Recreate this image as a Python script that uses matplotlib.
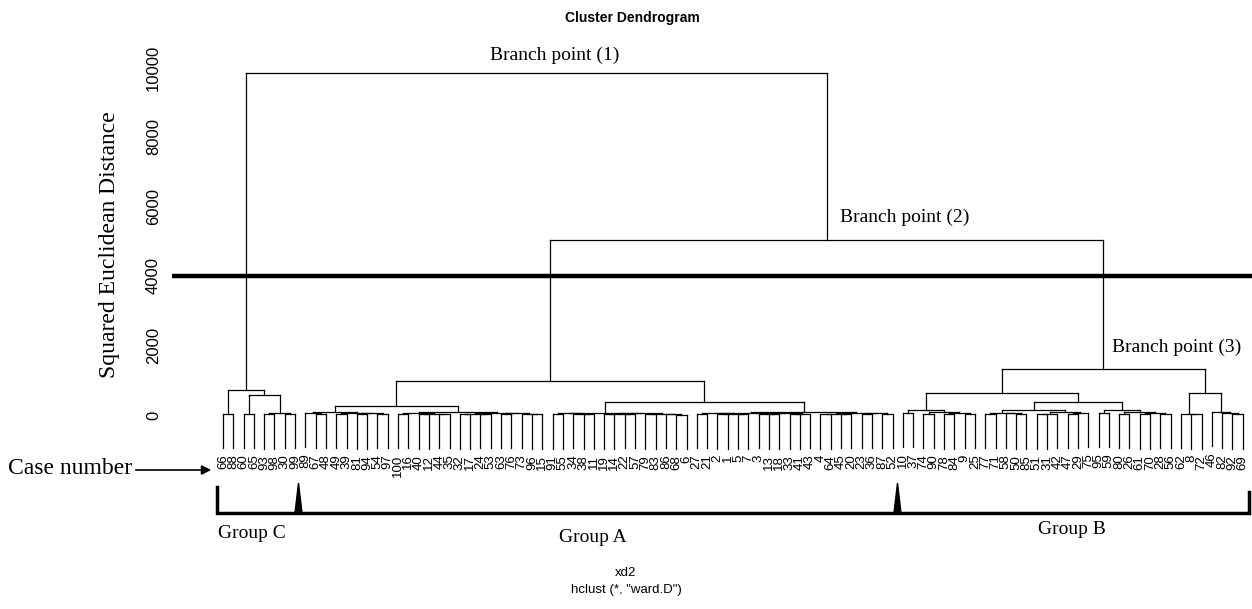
import matplotlib.pyplot as plt
from matplotlib.patches import Polygon

# upper merge heights (squared euclidean distance)
root_height = 9850       # branch point (1)
ab_height = 5040         # branch point (2)
cut_height = 4000
y_ticks = [0, 2000, 4000, 6000, 8000, 10000]

# subtrees: [merge height, left, right], leaves are case numbers
group_c = [720, [40, 66, 88],
           [575, [30, 60, 65], [60, [20, 93, 98], [35, 30, 99]]]]

group_a_left = [270,
    [95, [60, 89, [25, 67, 48]], [70, [30, 49, 39], [45, [20, 81, 94], [35, 54, 97]]]],
    [80, [55, [30, 100, 16], [40, [15, 40, 12], [25, 44, 35]]],
         [65, [35, [20, 32, 17], [30, 24, 53]], [50, [25, 63, 76], [40, 73, [20, 96, 15]]]]]]
group_a_right = [380,
    [60, [45, [20, 91, 55], [30, 34, [15, 38, 11]]],
         [50, [35, [20, 19, 14], [25, 22, 57]], [40, [20, 79, 83], [30, 86, [10, 68, 6]]]]],
    [95, [70, [50, [25, 27, 21], [35, [15, 2, 1], [20, 5, 7]]],
              [55, [30, 3, [15, 13, 18]], [40, [20, 33, 41], 43]]],
         [60, [40, [20, 4, 64], [25, 45, 20]], [45, [30, 23, 36], [35, 87, 52]]]]]
group_a = [990, group_a_left, group_a_right]

group_b_left = [620,
    [140, [60, 10, 37], [90, [30, 74, 90], [45, [20, 78, 84], [25, 9, 25]]]],
    [370, [140, [70, [30, 77, 71], [45, 58, [20, 50, 85]]],
               [95, [40, [15, 51, 31], 42], [55, [25, 47, 29], 75]]],
          [140, [50, 95, 59], [85, [35, 80, 26], [50, [20, 61, 70], [30, 28, 56]]]]]]
group_b_right = [640, [40, 62, [15, 8, 72]], [80, 46, [45, 82, [20, 92, 69]]]]
group_b = [1320, group_b_left, group_b_right]

tree = [root_height, group_c, [ab_height, group_a, group_b]]

W, H = 1252, 609
fig = plt.figure(figsize=(W / 100, H / 100), dpi=100)
ax = fig.add_axes([172 / W, (H - 460) / H, 1080 / W, 420 / H])
ax.set_xlim(-4.95, 99.9)
ax.set_ylim(-1295, 10791)

hang = 0.1 * root_height
order = []


def draw(node):
    if not isinstance(node, list):
        order.append(node)
        return len(order) - 1, None, node
    h, left, right = node
    kids = [draw(left), draw(right)]
    for x, hc, lab in kids:
        bottom = h - hang if hc is None else hc
        ax.plot([x, x], [bottom, h], color='black', lw=0.9)
        if hc is None:
            ax.text(x, bottom - 180, str(lab), rotation=90, ha='center', va='top',
                    fontsize=9.5, family='Liberation Sans')
    ax.plot([kids[0][0], kids[1][0]], [h, h], color='black', lw=0.9)
    return (kids[0][0] + kids[1][0]) / 2, h, None


draw(tree)
ax.axhline(cut_height, color='black', lw=3.2)

for s in ax.spines.values():
    s.set_visible(False)
ax.set_xticks([])
ax.set_yticks(y_ticks)
ax.set_yticklabels([str(t) for t in y_ticks], rotation=90, va='center',
                   fontsize=12, family='Liberation Sans')
ax.tick_params(axis='y', length=0, pad=8)

# overlay in pixel coordinates for annotations
ov = fig.add_axes([0, 0, 1, 1])
ov.set_xlim(0, W)
ov.set_ylim(H, 0)
ov.axis('off')

serif = 'Liberation Serif'
ov.text(632, 18, 'Cluster Dendrogram', ha='center', va='center', fontsize=10,
        fontweight='bold', family='Liberation Sans')
ov.text(555, 55, 'Branch point (1)', ha='center', va='center', fontsize=14, family=serif)
ov.text(905, 217, 'Branch point (2)', ha='center', va='center', fontsize=14, family=serif)
ov.text(1177, 347, 'Branch point (3)', ha='center', va='center', fontsize=14, family=serif)
ov.text(110, 245, 'Squared Euclidean Distance', ha='center', va='center', rotation=90,
        fontsize=17, family=serif)
ov.text(8, 469, 'Case number', ha='left', va='center', fontsize=17, family=serif)
ov.annotate('', xy=(214, 470), xytext=(133, 470),
            arrowprops=dict(arrowstyle='-|>', color='black', lw=1.2, mutation_scale=14))

# group brackets
ov.plot([217, 217, 1249, 1249], [487, 513, 513, 492], color='black', lw=2.5,
        solid_joinstyle='miter')
for bx in (298.5, 897.5):
    ov.add_patch(Polygon([(bx - 3.5, 513), (bx, 483), (bx + 3.5, 513)],
                         closed=True, color='black'))
ov.text(252, 533, 'Group C', ha='center', va='center', fontsize=14, family=serif)
ov.text(593, 537, 'Group A', ha='center', va='center', fontsize=14, family=serif)
ov.text(1072, 530, 'Group B', ha='center', va='center', fontsize=14, family=serif)

ov.text(626, 573, 'xd2', ha='center', va='center', fontsize=9.5, family='Liberation Sans')
ov.text(626, 590, 'hclust (*, "ward.D")', ha='center', va='center', fontsize=9.5,
        family='Liberation Sans')

fig.savefig('out.png', dpi=100)
